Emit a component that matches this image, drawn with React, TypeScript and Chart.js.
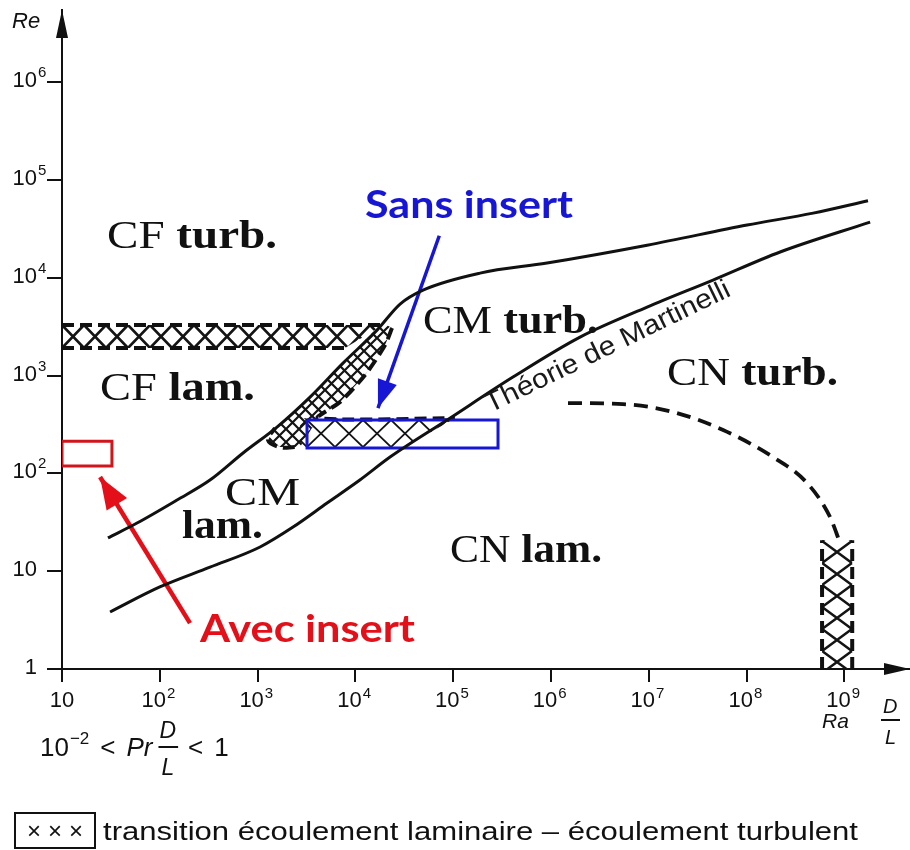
import { useEffect, useRef } from 'react';
import { Chart, registerables } from 'chart.js';

Chart.register(...registerables);

// ---------- axes ----------
const xTickValues = [1e1, 1e2, 1e3, 1e4, 1e5, 1e6, 1e7, 1e8, 1e9];
const xTickExponents = ['', '2', '3', '4', '5', '6', '7', '8', '9'];
const yTickValues = [1, 1e1, 1e2, 1e3, 1e4, 1e5, 1e6];
const yTickBases = ['1', '10', '10', '10', '10', '10', '10'];
const yTickExponents = ['', '', '2', '3', '4', '5', '6'];
const xMin = 10;
const xMax = 10 ** 9.67;
const yMin = 1;
const yMax = 10 ** 6.74;

// ---------- boundary curves (Ra D/L , Re) ----------
const upperRa = [29.5, 58.5, 150, 326, 710, 1578, 3436, 7470, 16630, 28600, 49100, 188000, 910000, 9.6e6, 1.01e8, 4.78e8, 1.74e9];
const upperRe = [21.9, 31.1, 53.5, 85.6, 162, 298, 604, 1345, 2925, 5400, 7500, 11200, 14200, 21600, 34700, 46000, 61500];

const lowerRa = [31, 100, 326, 1059, 2303, 5130, 11100, 22600, 86500, 408000, 1.98e6, 9.6e6, 4.53e7, 2.2e8, 1.83e9];
const lowerRe = [3.83, 6.9, 11, 17.7, 28.3, 49.8, 85.6, 147, 352, 968, 2483, 5030, 9500, 18400, 37200];

const cnDashedRa = [1.49e6, 5.45e6, 1.77e7, 5.74e7, 1.86e8, 4.15e8, 7.13e8, 9.02e8];
const cnDashedRe = [525, 512, 425, 278, 147, 79.8, 35.8, 19.4];

// ---------- transition zones (hatched) ----------
const cfBandRa = [10, 19150, 7830, 10, 10];
const cfBandRe = [3290, 3290, 1915, 1915, 3290];
const cfTopRa = [10, 19150];
const cfTopRe = [3290, 3290];
const cfBottomRa = [10, 7830];
const cfBottomRe = [1915, 1915];

const cmBandRa = [19150, 23660, 20100, 12540, 6970, 4150, 2716, 1694, 1277, 1507, 3436, 7470, 14100, 19150];
const cmBandRe = [3450, 3068, 2056, 1014, 537, 368, 186, 186, 220, 291, 604, 1345, 2600, 3450];
const cmFlatRa = [2716, 104000, 32100, 2716, 2716];
const cmFlatRe = [368, 368, 186, 186, 368];
const cmEdgeRa = [23660, 20100, 12540, 6970, 4150, 104000];
const cmEdgeRe = [3068, 2056, 1014, 537, 368, 368];
const cmEndRa = [2400, 1694, 1277, 1507];
const cmEndRe = [186, 186, 220, 291];

const cnBandRa = [5.9e8, 5.9e8, 1.2e9, 1.2e9, 5.9e8];
const cnBandRe = [1, 20.8, 20.8, 1, 1];
const cnLeftRa = [5.9e8, 5.9e8];
const cnLeftRe = [1, 20.8];
const cnRightRa = [1.2e9, 1.2e9];
const cnRightRe = [1, 20.8];

// ---------- highlighted zones and arrows ----------
const redRectRa = [10, 32.4, 32.4, 10, 10];
const redRectRe = [214, 214, 119, 119, 214];
const blueRectRa = [3200, 287000, 287000, 3200, 3200];
const blueRectRe = [352, 352, 182, 182, 352];
const redArrowRa = [203.6, 24.5];
const redArrowRe = [2.95, 91.9];
const blueArrowRa = [72000, 17000];
const blueArrowRe = [27000, 466];

const RED = '#e3101a';
const RED_RECT = '#d0161c';
const BLUE = '#1616d4';
const INK = '#111111';

// region labels, anchored in decades of (Ra D/L, Re): left, baseline, right
const regionLabels = [
  { a: 'CF ', b: 'turb.', lx: 1.46, ly: 4.305, rx: 3.198 },
  { a: 'CF ', b: 'lam.', lx: 1.389, ly: 2.751, rx: 2.973 },
  { a: 'CM ', b: 'turb.', lx: 4.691, ly: 3.436, rx: 6.481 },
  { a: 'CN ', b: 'turb.', lx: 7.186, ly: 2.904, rx: 8.934 },
  { a: 'CM', b: '', lx: 2.667, ly: 1.677, rx: 3.434 },
  { a: '', b: 'lam.', lx: 2.227, ly: 1.339, rx: 3.055 },
  { a: 'CN ', b: 'lam.', lx: 4.967, ly: 1.094, rx: 6.521 },
];

const zip = (xs: number[], ys: number[]) => xs.map((x, i) => ({ x, y: ys[i] }));

function fitText(ctx: CanvasRenderingContext2D, parts: { t: string; font: string }[], x: number, y: number, width: number) {
  const widths = parts.map((p) => {
    ctx.font = p.font;
    return ctx.measureText(p.t).width;
  });
  const total = widths.reduce((s, w) => s + w, 0);
  const k = width / total;
  ctx.save();
  ctx.translate(x, y);
  ctx.scale(k, 1);
  let cx = 0;
  parts.forEach((p, i) => {
    ctx.font = p.font;
    ctx.fillText(p.t, cx, 0);
    cx += widths[i];
  });
  ctx.restore();
}

function arrowHead(ctx: CanvasRenderingContext2D, tx: number, ty: number, fx: number, fy: number, len: number, half: number, color: string) {
  const a = Math.atan2(ty - fy, tx - fx);
  const c = Math.cos(a), s = Math.sin(a);
  ctx.save();
  ctx.fillStyle = color;
  ctx.beginPath();
  ctx.moveTo(tx, ty);
  ctx.lineTo(tx - len * c - half * s, ty - len * s + half * c);
  ctx.lineTo(tx - len * c + half * s, ty - len * s - half * c);
  ctx.closePath();
  ctx.fill();
  ctx.restore();
}

const SANS = '"Liberation Sans", Arial, sans-serif';
const SERIF = '"Liberation Serif", "Times New Roman", serif';

const annotationPlugin = {
  id: 'annotations',
  afterDraw(chart: any) {
    const ctx: CanvasRenderingContext2D = chart.ctx;
    const xs = chart.scales.x;
    const ys = chart.scales.y;
    const area = chart.chartArea;
    const X = (l: number) => xs.getPixelForValue(10 ** l);
    const Y = (l: number) => ys.getPixelForValue(10 ** l);
    ctx.save();
    ctx.textBaseline = 'alphabetic';
    ctx.textAlign = 'left';

    // axis arrow heads
    arrowHead(ctx, area.left, area.top, area.left, area.top + 40, 28, 6, INK);
    arrowHead(ctx, area.right, area.bottom, area.right - 40, area.bottom, 26, 6, INK);

    // tick labels
    ctx.fillStyle = INK;
    const baseFont = `22px ${SANS}`;
    const supFont = `15px ${SANS}`;
    xTickValues.forEach((v, i) => {
      const px = xs.getPixelForValue(v);
      ctx.font = baseFont;
      const bw = ctx.measureText('10').width;
      const start = xTickExponents[i] ? px - bw / 2 - 6 : px - bw / 2;
      ctx.fillText('10', start, area.bottom + 38);
      if (xTickExponents[i]) {
        ctx.font = supFont;
        ctx.fillText(xTickExponents[i], start + bw + 1, area.bottom + 29);
      }
    });
    yTickValues.forEach((v, i) => {
      const py = ys.getPixelForValue(v);
      ctx.font = baseFont;
      const base = yTickBases[i];
      const bw = ctx.measureText(base).width;
      ctx.fillText(base, 37 - bw, py + 5);
      if (yTickExponents[i]) {
        ctx.font = supFont;
        ctx.fillText(yTickExponents[i], 38, py - 5);
      }
    });

    // axis titles
    ctx.font = `italic 22px ${SANS}`;
    ctx.fillText('Re', 12, 28);
    ctx.font = `italic 21px ${SANS}`;
    ctx.fillText('Ra', 822, 728);
    ctx.font = `italic 20px ${SANS}`;
    ctx.fillText('D', 883, 713);
    ctx.fillText('L', 885, 744);
    ctx.fillRect(881, 719, 19, 2);

    // region labels
    ctx.fillStyle = INK;
    regionLabels.forEach((r) => {
      const parts: { t: string; font: string }[] = [];
      if (r.a) parts.push({ t: r.a, font: `40px ${SERIF}` });
      if (r.b) parts.push({ t: r.b, font: `bold 40px ${SERIF}` });
      fitText(ctx, parts, X(r.lx), Y(r.ly), X(r.rx) - X(r.lx));
    });

    // Martinelli label along the lower curve
    {
      const x0 = X(5.376), y0 = Y(2.618), x1 = X(7.851), y1 = Y(3.824);
      const ang = Math.atan2(y1 - y0, x1 - x0);
      const len = Math.hypot(x1 - x0, y1 - y0);
      ctx.save();
      ctx.translate(x0, y0);
      ctx.rotate(ang);
      ctx.fillStyle = '#1a1a1a';
      fitText(ctx, [{ t: 'Théorie de Martinelli', font: `27px ${SANS}` }], 0, 0, len);
      ctx.restore();
    }

    // coloured call-outs
    ctx.fillStyle = BLUE;
    fitText(ctx, [{ t: 'Sans insert', font: `bold 38px Lato, "Open Sans", sans-serif` }], X(4.098), Y(4.611), X(6.225) - X(4.098));
    ctx.fillStyle = RED;
    fitText(ctx, [{ t: 'Avec insert', font: `bold 38px Lato, "Open Sans", sans-serif` }], X(2.411), Y(0.276), X(4.609) - X(2.411));

    // arrow heads of the call-out arrows
    const heads: [number, string, number, number][] = [
      [3, RED, 32, 12],
      [4, BLUE, 28, 10],
    ];
    heads.forEach(([idx, color, len, half]) => {
      const pts = chart.getDatasetMeta(idx).data;
      const tip = pts[pts.length - 1];
      const prev = pts[pts.length - 2];
      arrowHead(ctx, tip.x, tip.y, prev.x, prev.y, len, half, color);
    });

    // condition under the axis
    ctx.fillStyle = INK;
    let cx = 40;
    const put = (t: string, font: string, dy: number, gap: number) => {
      ctx.font = font;
      ctx.fillText(t, cx, 756 + dy);
      cx += ctx.measureText(t).width + gap;
    };
    put('10', `26px ${SANS}`, 0, 1);
    put('−2', `17px ${SANS}`, -12, 11);
    put('<', `26px ${SANS}`, 0, 11);
    put('Pr', `italic 26px ${SANS}`, 0, 6);
    ctx.font = `italic 23px ${SANS}`;
    const dW = ctx.measureText('D').width;
    ctx.fillText('D', cx + 1, 738);
    ctx.fillText('L', cx + 3, 775);
    ctx.fillRect(cx, 746, dW + 3, 2);
    cx += dW + 13;
    put('<', `26px ${SANS}`, 0, 11);
    put('1', `26px ${SANS}`, 0, 0);

    // legend
    ctx.strokeStyle = INK;
    ctx.lineWidth = 2;
    ctx.strokeRect(15, 813, 80, 35);
    ctx.font = `24px ${SANS}`;
    ctx.textAlign = 'center';
    ctx.fillText('×', 34, 839);
    ctx.fillText('×', 55, 839);
    ctx.fillText('×', 76, 839);
    ctx.textAlign = 'left';
    fitText(ctx, [{ t: 'transition écoulement laminaire – écoulement turbulent', font: `25px ${SANS}` }], 103, 840, 755);

    ctx.restore();
  },
};

export default function App() {
  const ref = useRef<HTMLCanvasElement>(null);

  useEffect(() => {
    const canvas = ref.current!;
    const ctx = canvas.getContext('2d')!;

    const hatch = (w: number, h: number, lw: number, ox: number, oy: number) => {
      const c = document.createElement('canvas');
      c.width = w;
      c.height = h;
      const g = c.getContext('2d')!;
      g.strokeStyle = '#141414';
      g.lineWidth = lw;
      g.beginPath();
      g.moveTo(0, 0);
      g.lineTo(w, h);
      g.moveTo(w, 0);
      g.lineTo(0, h);
      g.stroke();
      const p = ctx.createPattern(c, 'repeat')!;
      p.setTransform(new DOMMatrix().translate(ox, oy));
      return p;
    };

    const line = (label: string, xs: number[], ys: number[], extra: any = {}) => ({
      label,
      data: zip(xs, ys),
      showLine: true,
      pointRadius: 0,
      pointHoverRadius: 0,
      borderColor: INK,
      borderWidth: 3,
      fill: false,
      tension: 0,
      ...extra,
    });
    const dashed = { borderDash: [12, 6], borderWidth: 4 };
    const hatchFill = (p: CanvasPattern) => ({
      fill: 'shape',
      backgroundColor: p,
      borderColor: 'rgba(0,0,0,0)',
      borderWidth: 0,
    });

    const chart = new Chart(canvas, {
      type: 'scatter',
      data: {
        datasets: [
          line('upper', upperRa, upperRe, { cubicInterpolationMode: 'monotone' }),
          line('lower', lowerRa, lowerRe, { cubicInterpolationMode: 'monotone' }),
          line('cnDashed', cnDashedRa, cnDashedRe, { cubicInterpolationMode: 'monotone', borderDash: [14, 8], borderWidth: 3.8 }),
          line('redArrow', redArrowRa, redArrowRe, { borderColor: RED, borderWidth: 4.5 }),
          line('blueArrow', blueArrowRa, blueArrowRe, { borderColor: BLUE, borderWidth: 3.5 }),
          line('redRect', redRectRa, redRectRe, { borderColor: RED_RECT, borderWidth: 3 }),
          line('blueRect', blueRectRa, blueRectRe, { borderColor: BLUE, borderWidth: 3 }),
          line('cfTop', cfTopRa, cfTopRe, dashed),
          line('cfBottom', cfBottomRa, cfBottomRe, dashed),
          line('cmEdge', cmEdgeRa, cmEdgeRe, { ...dashed, tension: 0.25 }),
          line('cmEnd', cmEndRa, cmEndRe, { ...dashed, tension: 0.4 }),
          line('cnLeft', cnLeftRa, cnLeftRe, dashed),
          line('cnRight', cnRightRa, cnRightRe, dashed),
          line('cfBand', cfBandRa, cfBandRe, hatchFill(hatch(22, 23, 2.6, 62, 325))),
          line('cmBand', cmBandRa, cmBandRe, hatchFill(hatch(13, 13, 2.2, 0, 0))),
          line('cmFlat', cmFlatRa, cmFlatRe, hatchFill(hatch(28, 27, 1.8, 307, 420))),
          line('cnBand', cnBandRa, cnBandRe, hatchFill(hatch(30, 22, 2.6, 822, 541))),
        ],
      },
      options: {
        animation: false,
        responsive: false,
        maintainAspectRatio: false,
        layout: { padding: { top: 10, right: 0, left: 0, bottom: 0 } },
        plugins: {
          legend: { display: false },
          tooltip: { enabled: false },
          title: { display: false },
        },
        events: [],
        scales: {
          x: {
            type: 'logarithmic',
            position: 'bottom',
            min: xMin,
            max: xMax,
            border: { display: true, color: INK, width: 2 },
            grid: { display: true, drawOnChartArea: false, drawTicks: true, tickLength: 13, color: INK, lineWidth: 2 },
            ticks: { display: false },
            afterBuildTicks: (s: any) => {
              s.ticks = xTickValues.map((value) => ({ value }));
            },
            afterFit: (s: any) => {
              s.height = 181;
            },
          },
          y: {
            type: 'logarithmic',
            position: 'left',
            min: yMin,
            max: yMax,
            border: { display: true, color: INK, width: 2 },
            grid: { display: true, drawOnChartArea: false, drawTicks: true, tickLength: 15, color: INK, lineWidth: 2 },
            ticks: { display: false },
            afterBuildTicks: (s: any) => {
              s.ticks = yTickValues.map((value) => ({ value }));
            },
            afterFit: (s: any) => {
              s.width = 62;
            },
          },
        },
      } as any,
      plugins: [annotationPlugin],
    });
    return () => chart.destroy();
  }, []);

  return (
    <div style={{ position: 'fixed', left: 0, top: 0, width: 910, height: 850, background: '#fff' }}>
      <canvas ref={ref} width={910} height={850} style={{ display: 'block' }} />
    </div>
  );
}
